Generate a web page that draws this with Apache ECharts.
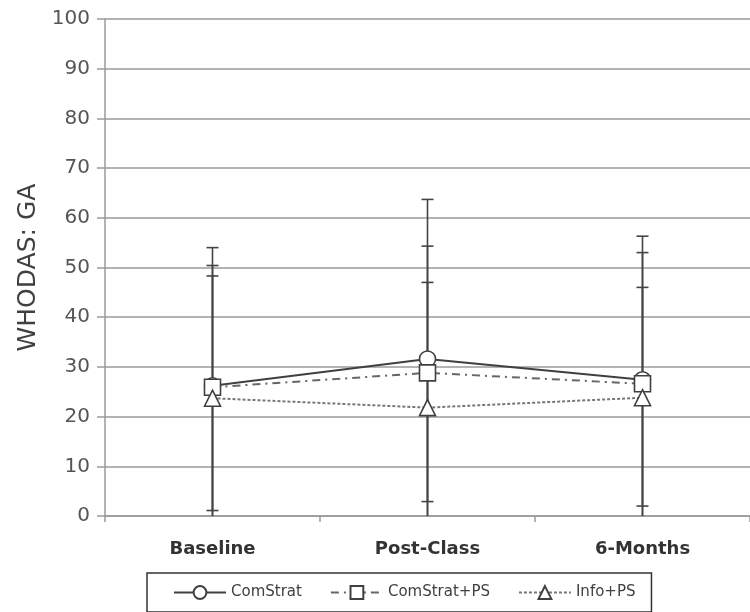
<!DOCTYPE html>
<html>
<head>
<meta charset="utf-8">
<script src="https://cdn.jsdelivr.net/npm/echarts@6/dist/echarts.min.js"></script>
<style>
  html, body { margin: 0; padding: 0; background: #fff; }
  #chart { width: 750px; height: 612px; }
</style>
</head>
<body>
<div id="chart"></div>
<script>
  // categories and values
  const categories = ['Baseline', 'Post-Class', '6-Months']
  const seriesNames = ['ComStrat', 'ComStrat+PS', 'Info+PS']

  const comStratMean = [26.2, 31.6, 27.4]
  const comStratUpper = [54.0, 63.7, 56.3]
  const comStratLower = [-1.6, -0.5, -1.5]

  const comStratPsMean = [25.9, 28.8, 26.6]
  const comStratPsUpper = [50.4, 54.3, 53.0]
  const comStratPsLower = [1.1, 2.9, 2.0]

  const infoPsMean = [23.7, 21.8, 23.8]
  const infoPsUpper = [48.3, 47.0, 46.0]
  const infoPsLower = [-0.9, -3.4, -0.4]

  const yTicks = [0, 10, 20, 30, 40, 50, 60, 70, 80, 90, 100]

  const FONT = '"DejaVu Sans", sans-serif'
  const AXIS_COLOR = '#9a9a9a'
  const TEXT_COLOR = '#404040'

  // build [idx, upper, lower] rows for the error bars
  function barRows(upper, lower) {
    return upper.map((u, i) => [i, u, lower[i]])
  }

  function renderErrorBar(params, api) {
    let x = api.value(0)
    let up = api.value(1)
    let lo = api.value(2)
    let top = api.coord([x, up])
    let bot = api.coord([x, Math.max(lo, 0)])
    let half = 6
    let style = { stroke: '#444', lineWidth: 1.6 }
    let children = [
      { type: 'line', shape: { x1: top[0], y1: top[1], x2: bot[0], y2: bot[1] }, style: style },
      { type: 'line', shape: { x1: top[0] - half, y1: top[1], x2: top[0] + half, y2: top[1] }, style: style }
    ]
    if (lo >= 0) {// 低于0的下限被坐标轴截掉，不画横线
      children.push({ type: 'line', shape: { x1: bot[0] - half, y1: bot[1], x2: bot[0] + half, y2: bot[1] }, style: style })
    }
    return { type: 'group', children: children }
  }

  function errorSeries(name, upper, lower) {
    return {
      name: name + ' sd',
      type: 'custom',
      z: 1,
      renderItem: renderErrorBar,
      encode: { x: 0, y: [1, 2] },
      data: barRows(upper, lower),
      silent: true
    }
  }

  function lineSeries(name, data, symbol, color, dash) {
    return {
      name: name,
      type: 'line',
      z: 3,
      data: data,
      symbol: symbol,
      symbolSize: 16,
      showAllSymbol: true,
      lineStyle: { color: color, width: 2, type: dash },
      itemStyle: { color: '#fff', borderColor: '#404040', borderWidth: 1.6 }
    }
  }

  const chart = echarts.init(document.getElementById('chart'))
  chart.setOption({
    backgroundColor: '#fff',
    animation: false,
    grid: { left: 105, right: -10.5, top: 19, bottom: 96 },
    legend: {
      data: seriesNames,
      left: 147,
      top: 573,
      padding: [12, 16, 12, 26],
      borderColor: '#333',
      borderWidth: 1.5,
      itemGap: 28,
      itemWidth: 52,
      itemHeight: 16,
      textStyle: { fontFamily: FONT, fontSize: 15, color: TEXT_COLOR }
    },
    xAxis: {
      type: 'category',
      data: categories,
      axisLine: { lineStyle: { color: AXIS_COLOR, width: 1.5 } },
      axisTick: { show: true, length: 6, lineStyle: { color: AXIS_COLOR, width: 1.5 } },
      axisLabel: { margin: 24, fontFamily: FONT, fontWeight: 'bold', fontSize: 18, color: '#333' }
    },
    yAxis: {
      type: 'value',
      min: yTicks[0],
      max: yTicks[yTicks.length - 1],
      interval: 10,
      name: 'WHODAS: GA',
      nameLocation: 'middle',
      nameGap: 64,
      nameRotate: 90,
      nameTextStyle: { fontFamily: FONT, fontSize: 25, color: TEXT_COLOR },
      axisLine: { show: true, lineStyle: { color: AXIS_COLOR, width: 1.5 } },
      axisTick: { show: true, length: 8, lineStyle: { color: AXIS_COLOR, width: 1.5 } },
      axisLabel: { margin: 15, fontFamily: FONT, fontSize: 20, color: '#555' },
      splitLine: { show: true, lineStyle: { color: AXIS_COLOR, width: 1.5 } }
    },
    series: [
      errorSeries(seriesNames[0], comStratUpper, comStratLower),
      errorSeries(seriesNames[1], comStratPsUpper, comStratPsLower),
      errorSeries(seriesNames[2], infoPsUpper, infoPsLower),
      lineSeries(seriesNames[0], comStratMean, 'circle', '#404040', 'solid'),
      lineSeries(seriesNames[1], comStratPsMean, 'rect', '#666', [8, 5, 2, 5]),
      lineSeries(seriesNames[2], infoPsMean, 'triangle', '#777', [3, 2])
    ]
  })
</script>
</body>
</html>
